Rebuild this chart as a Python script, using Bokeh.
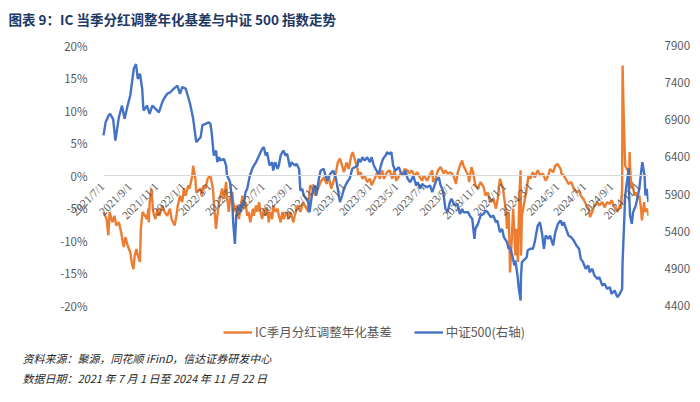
import math
import pandas as pd
from bokeh.plotting import figure
from bokeh.models import (Range1d, LinearAxis, FixedTicker, NumeralTickFormatter,
                          Title, Legend, LegendItem, LabelSet, ColumnDataSource)
from bokeh.embed import file_html
from bokeh.resources import INLINE

# ---------------- data ----------------
basis_dates = [
    "2021-07-01", "2021-07-08", "2021-07-12", "2021-07-15", "2021-07-21", "2021-07-26", "2021-07-30",
    "2021-08-05", "2021-08-10", "2021-08-16", "2021-08-20", "2021-08-25", "2021-08-31", "2021-09-03",
    "2021-09-07", "2021-09-10", "2021-09-14", "2021-09-17", "2021-09-22", "2021-09-24", "2021-09-28",
    "2021-10-08", "2021-10-11", "2021-10-12", "2021-10-14", "2021-10-18", "2021-10-22", "2021-10-27",
    "2021-11-01", "2021-11-05", "2021-11-12", "2021-11-17", "2021-11-23", "2021-11-29", "2021-12-03",
    "2021-12-10", "2021-12-14", "2021-12-17", "2021-12-22", "2021-12-27", "2021-12-31", "2022-01-04",
    "2022-01-10", "2022-01-13", "2022-01-19", "2022-01-21", "2022-01-26", "2022-01-28", "2022-02-07",
    "2022-02-09", "2022-02-14", "2022-02-18", "2022-02-23", "2022-03-01", "2022-03-04", "2022-03-07",
    "2022-03-09", "2022-03-14", "2022-03-17", "2022-03-21", "2022-03-24", "2022-03-28", "2022-04-01",
    "2022-04-06", "2022-04-08", "2022-04-12", "2022-04-15", "2022-04-20", "2022-04-22", "2022-04-27",
    "2022-04-29", "2022-05-05", "2022-05-09", "2022-05-13", "2022-05-16", "2022-05-20", "2022-05-24",
    "2022-05-27", "2022-05-31", "2022-06-06", "2022-06-08", "2022-06-13", "2022-06-16", "2022-06-20",
    "2022-06-23", "2022-06-27", "2022-07-01", "2022-07-05", "2022-07-08", "2022-07-12", "2022-07-15",
    "2022-07-20", "2022-07-22", "2022-07-27", "2022-08-01", "2022-08-04", "2022-08-08", "2022-08-12",
    "2022-08-15", "2022-08-22", "2022-08-26", "2022-08-30", "2022-09-06", "2022-09-09", "2022-09-16",
    "2022-09-22", "2022-09-28", "2022-10-10", "2022-10-12", "2022-10-14", "2022-10-21", "2022-10-26",
    "2022-11-01", "2022-11-07", "2022-11-14", "2022-11-21", "2022-11-25", "2022-12-01", "2022-12-06",
    "2022-12-12", "2022-12-16", "2022-12-21", "2022-12-26", "2022-12-30", "2023-01-05", "2023-01-10",
    "2023-01-16", "2023-01-19", "2023-01-30", "2023-02-01", "2023-02-06", "2023-02-10", "2023-02-15",
    "2023-02-21", "2023-02-27", "2023-03-03", "2023-03-10", "2023-03-16", "2023-03-22", "2023-03-27",
    "2023-03-31", "2023-04-07", "2023-04-13", "2023-04-19", "2023-04-24", "2023-04-28", "2023-05-08",
    "2023-05-12", "2023-05-17", "2023-05-23", "2023-05-29", "2023-06-02", "2023-06-09", "2023-06-15",
    "2023-06-21", "2023-06-26", "2023-06-30", "2023-07-07", "2023-07-13", "2023-07-19", "2023-07-21",
    "2023-07-26", "2023-08-01", "2023-08-07", "2023-08-14", "2023-08-18", "2023-08-23", "2023-08-29",
    "2023-09-05", "2023-09-11", "2023-09-15", "2023-09-20", "2023-09-25", "2023-09-28", "2023-10-09",
    "2023-10-11", "2023-10-16", "2023-10-20", "2023-10-25", "2023-10-31", "2023-11-06", "2023-11-13",
    "2023-11-17", "2023-11-22", "2023-11-29", "2023-12-05", "2023-12-11", "2023-12-15", "2023-12-20",
    "2023-12-22", "2023-12-27", "2023-12-29", "2024-01-03", "2024-01-05", "2024-01-09", "2024-01-12",
    "2024-01-16", "2024-01-19", "2024-01-22", "2024-01-24", "2024-01-26", "2024-01-30", "2024-02-02",
    "2024-02-05", "2024-02-06", "2024-02-08", "2024-02-19", "2024-02-21", "2024-02-23", "2024-02-27",
    "2024-03-04", "2024-03-08", "2024-03-15", "2024-03-21", "2024-03-27", "2024-04-02", "2024-04-08",
    "2024-04-12", "2024-04-19", "2024-04-24", "2024-04-29", "2024-05-06", "2024-05-08", "2024-05-13",
    "2024-05-20", "2024-05-24", "2024-05-30", "2024-06-05", "2024-06-11", "2024-06-17", "2024-06-21",
    "2024-06-27", "2024-07-04", "2024-07-09", "2024-07-12", "2024-07-17", "2024-07-22", "2024-07-29",
    "2024-08-02", "2024-08-09", "2024-08-14", "2024-08-20", "2024-08-26", "2024-08-30", "2024-09-06",
    "2024-09-12", "2024-09-18", "2024-09-20", "2024-09-23", "2024-09-24", "2024-09-27", "2024-09-30",
    "2024-10-08", "2024-10-09", "2024-10-10", "2024-10-11", "2024-10-14", "2024-10-16", "2024-10-21",
    "2024-10-24", "2024-10-29", "2024-11-01", "2024-11-05", "2024-11-07", "2024-11-12", "2024-11-14",
    "2024-11-19", "2024-11-22",
]
basis_pct = [
    -5.6, -6.7, -9.2, -5.6, -7.2, -6.2, -7.7,
    -7.2, -8.7, -11.0, -9.5, -10.8, -11.8, -13.3,
    -14.4, -12.3, -11.3, -12.3, -13.3, -8.2, -5.6,
    -6.7, -5.1, -7.2, -4.1, -2.0, -5.6, -6.7,
    -5.1, -6.2, -4.6, -5.6, -6.2, -5.1, -6.7,
    -7.7, -6.2, -4.6, -3.1, -4.1, -2.0, -3.1,
    -1.5, -2.0, 0.0, 1.5, -0.5, -2.6, -2.0,
    -3.1, -1.5, -2.0, -0.5, 0.0, -1.0, -2.0,
    -4.1, -8.2, -6.2, -4.1, -3.1, -2.0, -3.6,
    -1.0, -3.1, -5.6, -3.6, -2.6, -4.1, -5.6,
    -4.6, -6.7, -5.1, -3.1, -5.1, -4.1, -6.2,
    -5.6, -7.2, -5.1, -6.2, -4.6, -5.6, -4.1,
    -5.6, -6.7, -5.1, -6.2, -4.9, -7.2, -5.6,
    -6.7, -4.6, -5.6, -5.1, -6.2, -7.2, -5.6,
    -6.7, -5.6, -6.7, -5.6, -7.2, -6.2, -4.6,
    -5.6, -4.1, -5.6, -3.1, -1.5, -2.0, -3.1,
    -2.0, -1.0, -0.3, -1.3, 0.0, -2.0, -1.0,
    0.5, 2.0, 2.6, 1.5, 0.5, 2.0, 1.0,
    3.1, 3.6, 1.0, 0.0, 0.5, -0.5, 0.0,
    -1.0, -0.5, -1.5, -0.5, 0.5, -0.5, 0.8,
    -0.5, 0.5, 0.8, -0.5, 0.8, -0.8, 0.3,
    0.0, 1.0, 0.8, 0.3, 0.8, 0.0, 0.5,
    -0.3, -0.8, 0.0, -0.8, 0.0, 0.8, -1.0,
    -0.5, 0.8, 1.3, 0.3, 0.8, 0.3, 0.5,
    0.0, -1.3, 0.5, 1.5, 2.3, 1.5, 0.0,
    -1.0, 1.3, 0.5, -1.5, -2.0, -1.0, -1.8,
    -3.1, -2.6, -4.1, -3.6, -5.1, -3.6, -0.5,
    -1.0, -2.0, -3.1, -5.6, -8.2, -5.6, -14.9,
    -9.7, -5.1, -9.2, -12.3, -8.2, -13.3, -3.1,
    0.8, -12.3, -6.2, -2.0, -1.0, 0.0, -0.5,
    0.5, -0.3, 0.8, 0.0, 0.3, -0.8, 0.0,
    1.0, 0.5, 1.5, 1.8, 1.0, 0.3, 0.0,
    -0.8, -1.3, -1.0, -2.0, -2.6, -2.3, -3.1,
    -3.6, -4.6, -5.1, -6.4, -5.6, -4.6, -4.1,
    -4.6, -4.1, -4.9, -4.1, -4.4, -3.8, -4.9,
    -5.6, -4.6, -5.1, -2.0, 16.9, 8.2, 1.5,
    0.5, -1.0, 3.6, 1.5, -2.0, -1.0, -3.1,
    -2.6, -3.6, -3.1, -5.1, -6.9, -4.1, -5.6,
    -5.1, -6.2,
]

csi_dates = [
    "2021-07-01", "2021-07-06", "2021-07-13", "2021-07-16", "2021-07-23", "2021-07-28", "2021-08-05",
    "2021-08-12", "2021-08-18", "2021-08-24", "2021-08-31", "2021-09-08", "2021-09-13", "2021-09-17",
    "2021-09-22", "2021-09-27", "2021-09-30", "2021-10-08", "2021-10-14", "2021-10-20", "2021-10-27",
    "2021-11-04", "2021-11-12", "2021-11-15", "2021-11-23", "2021-11-30", "2021-12-08", "2021-12-16",
    "2021-12-22", "2021-12-27", "2022-01-04", "2022-01-10", "2022-01-14", "2022-01-21", "2022-01-28",
    "2022-02-07", "2022-02-11", "2022-02-18", "2022-02-25", "2022-03-01", "2022-03-04", "2022-03-09",
    "2022-03-14", "2022-03-17", "2022-03-21", "2022-03-24", "2022-04-01", "2022-04-06", "2022-04-08",
    "2022-04-12", "2022-04-15", "2022-04-20", "2022-04-22", "2022-04-26", "2022-04-29", "2022-05-05",
    "2022-05-09", "2022-05-13", "2022-05-16", "2022-05-20", "2022-05-24", "2022-05-30", "2022-06-06",
    "2022-06-13", "2022-06-20", "2022-06-27", "2022-07-01", "2022-07-05", "2022-07-08", "2022-07-14",
    "2022-07-20", "2022-07-22", "2022-07-27", "2022-08-01", "2022-08-04", "2022-08-08", "2022-08-12",
    "2022-08-15", "2022-08-19", "2022-08-23", "2022-08-29", "2022-09-02", "2022-09-09", "2022-09-13",
    "2022-09-19", "2022-09-22", "2022-09-26", "2022-09-30", "2022-10-10", "2022-10-11", "2022-10-13",
    "2022-10-17", "2022-10-21", "2022-10-25", "2022-10-28", "2022-11-03", "2022-11-07", "2022-11-14",
    "2022-11-18", "2022-11-22", "2022-11-29", "2022-12-06", "2022-12-12", "2022-12-16", "2022-12-21",
    "2022-12-26", "2022-12-30", "2023-01-06", "2023-01-12", "2023-01-18", "2023-01-30", "2023-02-01",
    "2023-02-06", "2023-02-10", "2023-02-15", "2023-02-21", "2023-02-27", "2023-03-03", "2023-03-08",
    "2023-03-14", "2023-03-20", "2023-03-24", "2023-03-29", "2023-04-04", "2023-04-07", "2023-04-11",
    "2023-04-17", "2023-04-21", "2023-04-26", "2023-05-04", "2023-05-08", "2023-05-15", "2023-05-19",
    "2023-05-24", "2023-05-30", "2023-06-06", "2023-06-12", "2023-06-16", "2023-06-21", "2023-06-26",
    "2023-06-30", "2023-07-07", "2023-07-14", "2023-07-19", "2023-07-24", "2023-07-28", "2023-08-03",
    "2023-08-07", "2023-08-11", "2023-08-14", "2023-08-18", "2023-08-23", "2023-08-28", "2023-09-01",
    "2023-09-08", "2023-09-14", "2023-09-20", "2023-09-25", "2023-09-28", "2023-10-09", "2023-10-12",
    "2023-10-18", "2023-10-23", "2023-10-25", "2023-10-31", "2023-11-06", "2023-11-13", "2023-11-17",
    "2023-11-22", "2023-11-29", "2023-12-05", "2023-12-11", "2023-12-14", "2023-12-20", "2023-12-25",
    "2023-12-29", "2024-01-05", "2024-01-09", "2024-01-12", "2024-01-17", "2024-01-22", "2024-01-24",
    "2024-01-29", "2024-02-01", "2024-02-05", "2024-02-06", "2024-02-08", "2024-02-19", "2024-02-21",
    "2024-02-27", "2024-03-04", "2024-03-08", "2024-03-15", "2024-03-20", "2024-03-25", "2024-03-29",
    "2024-04-02", "2024-04-08", "2024-04-12", "2024-04-19", "2024-04-24", "2024-04-30", "2024-05-06",
    "2024-05-10", "2024-05-13", "2024-05-20", "2024-05-24", "2024-05-30", "2024-06-05", "2024-06-11",
    "2024-06-17", "2024-06-21", "2024-06-26", "2024-07-02", "2024-07-08", "2024-07-11", "2024-07-17",
    "2024-07-22", "2024-07-29", "2024-08-02", "2024-08-09", "2024-08-14", "2024-08-20", "2024-08-26",
    "2024-08-30", "2024-09-06", "2024-09-12", "2024-09-18", "2024-09-23", "2024-09-24", "2024-09-27",
    "2024-09-30", "2024-10-08", "2024-10-09", "2024-10-11", "2024-10-15", "2024-10-18", "2024-10-24",
    "2024-10-29", "2024-11-01", "2024-11-06", "2024-11-08", "2024-11-13", "2024-11-15", "2024-11-18",
    "2024-11-22",
]
csi_close = [
    6690, 6870, 6960, 6980, 6910, 6620, 6935,
    7090, 6915, 7070, 7230, 7590, 7650, 7450,
    7520, 7320, 7025, 7090, 6980, 7090, 7050,
    7000, 7140, 7180, 7250, 7270, 7320, 7360,
    7250, 7340, 7320, 7200, 7115, 6913, 6600,
    6665, 6825, 6845, 6865, 6850, 6733, 6419,
    6486, 6329, 6396, 6352, 6374, 6284, 6150,
    6105, 6060, 5791, 5521, 5230, 5611, 5746,
    5656, 5791, 5746, 5925, 5970, 6150, 6262,
    6329, 6419, 6509, 6531, 6419, 6464, 6284,
    6329, 6217, 6329, 6240, 6284, 6419, 6464,
    6486, 6419, 6441, 6262, 6329, 6284, 6307,
    6240, 5947, 5970, 5880, 5791, 5701, 5656,
    5835, 5970, 6015, 5880, 6105, 6217, 6240,
    6150, 6082, 6172, 6217, 6105, 5970, 5791,
    5880, 5970, 6060, 6105, 6240, 6284, 6374,
    6329, 6396, 6352, 6396, 6329, 6396, 6284,
    6217, 6172, 6284, 6374, 6419, 6464, 6441,
    6464, 6284, 6217, 6262, 6194, 6150, 6217,
    6105, 6060, 6150, 6015, 6060, 5970, 6037,
    6015, 5993, 6015, 5925, 6015, 6082, 6127,
    6015, 5970, 5880, 5701, 5656, 5791, 5835,
    5746, 5768, 5633, 5701, 5656, 5656, 5611,
    5566, 5297, 5431, 5499, 5611, 5633, 5678,
    5656, 5588, 5611, 5521, 5544, 5387, 5431,
    5319, 5252, 5163, 5185, 5073, 4938, 5006,
    4804, 4624, 4467, 4804, 4983, 5050, 5140,
    5163, 5163, 5252, 5476, 5521, 5360, 5163,
    5342, 5297, 5342, 5208, 5387, 5499, 5544,
    5476, 5521, 5409, 5342, 5319, 5275, 5208,
    5163, 5028, 4983, 4894, 4938, 4849, 4894,
    4804, 4759, 4781, 4669, 4692, 4624, 4647,
    4557, 4602, 4512, 4557, 4624, 4983, 5431,
    5880, 6250, 5880, 5611, 5500, 5656, 5746,
    5880, 5970, 6240, 6329, 6150, 5880, 5970,
    5791,
]

tick_dates = [
    "2021-07-01", "2021-09-01", "2021-11-01", "2022-01-01", "2022-03-01", "2022-05-01", "2022-07-01",
    "2022-09-01", "2022-11-01", "2023-01-01", "2023-03-01", "2023-05-01", "2023-07-01", "2023-09-01",
    "2023-11-01", "2024-01-01", "2024-03-01", "2024-05-01", "2024-07-01", "2024-09-01", "2024-11-01",
]
tick_labels = [
    "2021/7/1", "2021/9/1", "2021/11/1", "2022/1/1", "2022/3/1", "2022/5/1", "2022/7/1",
    "2022/9/1", "2022/11/1", "2023/1/1", "2023/3/1", "2023/5/1", "2023/7/1", "2023/9/1",
    "2023/11/1", "2024/1/1", "2024/3/1", "2024/5/1", "2024/7/1", "2024/9/1", "2024/11/1",
]
left_ticks = [-0.20, -0.15, -0.10, -0.05, 0.0, 0.05, 0.10, 0.15, 0.20]
right_ticks = [4400, 4900, 5400, 5900, 6400, 6900, 7400, 7900]
left_lo, left_hi = -0.20, 0.20
right_lo, right_hi = 4400, 7900

title_text = "图表 9：IC 当季分红调整年化基差与中证 500 指数走势"
series_names = ["IC季月分红调整年化基差", "中证500(右轴)"]
source_text = "资料来源：聚源，同花顺 iFinD，信达证券研发中心"
date_text = "数据日期：2021 年 7 月 1 日至 2024 年 11 月 22 日"

# ---------------- layout constants ----------------
ORANGE = "#ED7D31"
BLUE = "#4472C4"
GRAY = "#595959"
CJK = "Noto Sans CJK SC"

W, H = 700, 402
PLOT_LEFT, PLOT_RIGHT = 103, 648      # pixel columns of first / last date
PLOT_TOP, PLOT_BOTTOM = 45, 305       # pixel rows of the top / bottom tick values
FRAME_LEFT = 60                       # frame widened to the left so the first date label shows
FRAME_TOP = 32                        # frame raised so the top tick label is not clipped
FRAME_BOTTOM = 345                    # frame extended downwards to host the legend
FL, FR = FRAME_LEFT, W - PLOT_RIGHT
FT, FB = FRAME_TOP, H - FRAME_BOTTOM

t0, t1 = pd.Timestamp(basis_dates[0]), pd.Timestamp(basis_dates[-1])
x_pad = (t1 - t0) * ((PLOT_LEFT - FRAME_LEFT) / (PLOT_RIGHT - PLOT_LEFT))
ext_lo = (FRAME_BOTTOM - PLOT_BOTTOM) / (PLOT_BOTTOM - PLOT_TOP)
ext_hi = (PLOT_TOP - FRAME_TOP) / (PLOT_BOTTOM - PLOT_TOP)

p = figure(width=W, height=H, x_axis_type="datetime",
           x_range=Range1d(t0 - x_pad, t1),
           y_range=Range1d(left_lo - ext_lo * (left_hi - left_lo), left_hi + ext_hi * (left_hi - left_lo)),
           output_backend="svg", toolbar_location=None,
           min_border_left=FL, min_border_right=FR, min_border_top=FT, min_border_bottom=FB)
p.extra_y_ranges = {"idx": Range1d(right_lo - ext_lo * (right_hi - right_lo),
                                   right_hi + ext_hi * (right_hi - right_lo))}
p.grid.visible = False
p.outline_line_color = None
p.background_fill_color = "white"
p.border_fill_color = "white"

t0_ms, t1_ms = t0.value / 1e6, t1.value / 1e6

# x axis kept only as the light zero line (its labels are drawn by a LabelSet below)
xa = p.xaxis[0]
xa.fixed_location = 0
xa.bounds = (t0_ms, t1_ms)
xa.ticker = FixedTicker(ticks=[])
xa.axis_line_color = "#D9D9D9"
xa.axis_line_width = 1
xa.major_tick_line_color = None
xa.minor_tick_line_color = None
xa.major_tick_out = 0
xa.major_label_text_font_size = "0px"
xa.major_label_standoff = 0

ya = p.yaxis[0]
ya.fixed_location = t0_ms
ya.ticker = FixedTicker(ticks=left_ticks)
ya.formatter = NumeralTickFormatter(format="0%")
ra = LinearAxis(y_range_name="idx", ticker=FixedTicker(ticks=right_ticks))
p.add_layout(ra, "right")
for ax in (ya, ra):
    ax.axis_line_color = None
    ax.major_tick_line_color = None
    ax.minor_tick_line_color = None
    ax.major_label_text_color = GRAY
    ax.major_label_text_font = CJK
    ax.major_label_text_font_size = "11.5px"
    ax.major_label_standoff = 10

bx = pd.to_datetime(basis_dates)
by = [v / 100.0 for v in basis_pct]
r1 = p.line(bx, by, line_color=ORANGE, line_width=2.4)
r2 = p.line(pd.to_datetime(csi_dates), csi_close, y_range_name="idx", line_color=BLUE, line_width=2.4)

# slanted date labels hanging under the zero line
tick_src = ColumnDataSource(dict(x=pd.to_datetime(tick_dates), y=[0.0] * len(tick_dates), t=tick_labels))
p.add_layout(LabelSet(x="x", y="y", text="t", source=tick_src, angle=math.pi / 4,
                      text_align="right", text_baseline="middle", x_offset=-1, y_offset=-9,
                      text_font=CJK, text_font_size="11.5px", text_color=GRAY))

# legend inside the (extended) frame; tuple = offset of its lower-left corner from frame's lower-left
legend = Legend(items=[LegendItem(label=series_names[0], renderers=[r1]),
                       LegendItem(label=series_names[1], renderers=[r2])],
                orientation="horizontal", location=(223 - FRAME_LEFT, 4), padding=0, margin=0,
                spacing=22, glyph_width=29, glyph_height=14, label_standoff=3, label_height=14,
                label_text_font=CJK, label_text_font_size="12.5px", label_text_color=GRAY,
                border_line_color=None, background_fill_alpha=0)
p.add_layout(legend, "center")

# title above, notes below (side-panel titles are not clipped by the frame)
p.title.text = title_text
p.title.align = "left"
p.title.offset = 8 - FRAME_LEFT
p.title.standoff = 7
p.title.text_font = CJK
p.title.text_font_style = "bold"
p.title.text_font_size = "13.5px"
p.title.text_color = "#203864"

note1 = Title(text=source_text, align="left", offset=22 - FRAME_LEFT, standoff=4,
              text_font=CJK, text_font_style="italic", text_font_size="11px",
              text_color="#262626")
note2 = Title(text=date_text, align="left", offset=22 - FRAME_LEFT, standoff=0,
              text_font=CJK, text_font_style="italic", text_font_size="11px",
              text_color="#262626")
p.below = [note1, note2] + list(p.below)

open("out.html", "w").write(file_html(p, INLINE))
